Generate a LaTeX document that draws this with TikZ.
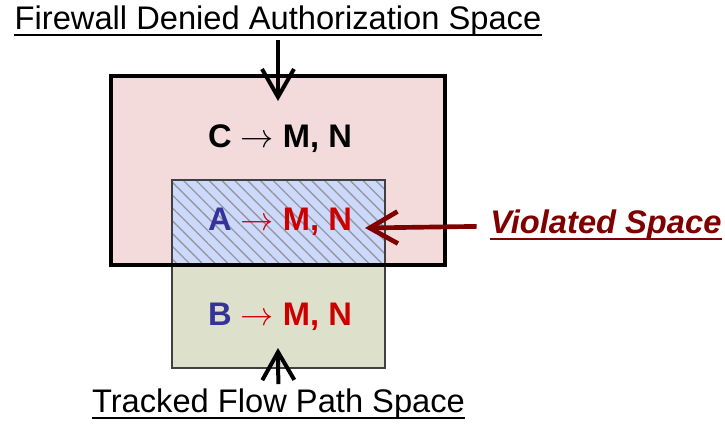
\documentclass[tikz,border=0pt]{standalone}
\usepackage{xcolor}
\usepackage{fontspec}
\setmainfont{Liberation Sans}
\usepackage{tikz}
\usetikzlibrary{arrows.meta, positioning, patterns.meta}
\definecolor{myred}{RGB}{204,0,0}
\definecolor{mydarkred}{RGB}{128,0,0}
\definecolor{myblue}{RGB}{51,51,153}
\definecolor{mygray}{RGB}{64,64,64}
\definecolor{hatchgray}{RGB}{150,150,160}
\definecolor{fillpink}{RGB}{242,219,218}
\definecolor{fillblue}{RGB}{205,217,250}
\definecolor{fillgreen}{RGB}{221,225,203}
\tikzset{
  region/.style={draw=mygray, line width=0.9pt},
  arrow/.style={-{Straight Barb[length=21pt,width=24pt]}, line width=3pt, color=black},
  caption/.style={font=\fontsize{24.5}{29}\selectfont, inner xsep=0pt, inner ysep=3pt},
  rule/.style={font=\fontsize{24.5}{29}\selectfont\bfseries, inner sep=2pt},
  uline/.style={line width=1.2pt}
}

\begin{document}
\begin{tikzpicture}[x=0.75pt, y=-0.75pt,
  hatch/.style={pattern={Lines[angle=-45, distance=6.8pt, line width=1pt]}, pattern color=hatchgray}
]
\useasboundingbox (0,0) rectangle (725,433);
%--- regions ---
\fill[fillpink] (111,76) rectangle (445,265);
\fill[fillblue] (172,180) rectangle (385,265);
\path[hatch] (172,180) rectangle (385,265);
\draw[region] (172,180) rectangle (385,265);
\draw[region, fill=fillgreen] (172,265) rectangle (385,368);
% denied space outline
\draw[line width=3pt] (111,76) rectangle (445,265);

%--- rules ---
\node[rule, anchor=base] (cmap) at (280,147) {C $\rightarrow$ M, N};
\node[rule, anchor=base] (amap) at (280,230) {\textcolor{myblue}{A} \textcolor{myred}{$\rightarrow$ M, N}};
\node[rule, anchor=base] (bmap) at (280,325) {\textcolor{myblue}{B} \textcolor{myred}{$\rightarrow$ M, N}};

%--- captions ---
\node[caption, anchor=base] (denied) at (278,29) {Firewall Denied Authorization Space};
\node[caption, anchor=base] (tracked) at (278.5,412) {Tracked Flow Path Space};
\node[caption, anchor=base west, font=\fontsize{24.5}{29}\selectfont\bfseries\itshape, text=mydarkred] (violated) at (490,233) {Violated Space};
% underlines
\draw[uline] ([yshift=-4.5pt]denied.base west) -- ([yshift=-4.5pt]denied.base east);
\draw[uline] ([yshift=-4.5pt]tracked.base west) -- ([yshift=-4.5pt]tracked.base east);
\draw[uline, mydarkred, line width=1.8pt] ([yshift=-4.5pt]violated.base west) -- ([yshift=-4.5pt]violated.base east);

% arrows in
\coordinate (deniedtip) at (278,101);
\coordinate (trackedtip) at (278,348);
\coordinate (violatedtip) at (365,228);
\draw[arrow] (denied) -- (deniedtip);
\draw[arrow] (tracked) -- (trackedtip);
\draw[arrow, color=mydarkred, line width=3.5pt, shorten <=10pt] (violated) -- (violatedtip);
\end{tikzpicture}
\end{document}
